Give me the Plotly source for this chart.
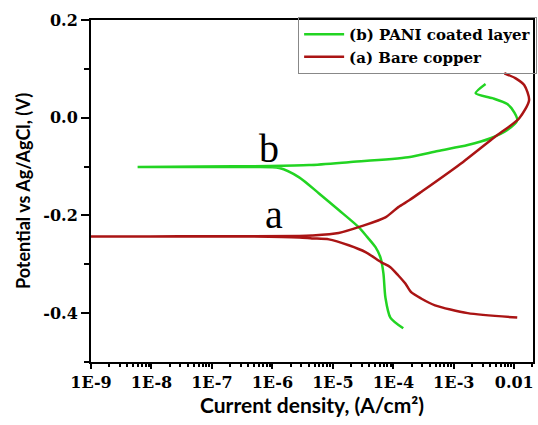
import plotly.graph_objects as go

# PANI coated layer (b): cathodic end -> corrosion spike -> anodic end
b_current = [1.46e-4, 8.93e-5, 7.4e-5, 6.85e-5, 6.12e-5, 5.07e-5, 3.75e-5, 2.67e-5, 1.25e-5,
             5.9e-6, 2.77e-6, 1.30e-6, 4.2e-7, 6.4e-8, 5.9e-9, 6.4e-8, 8.9e-7,
             4.05e-6, 1.83e-5, 1.76e-4, 5.47e-4, 1.70e-3, 4.05e-3, 7.67e-3,
             1.12e-2, 1.00e-2, 7.67e-3, 4.35e-3, 2.30e-3, 3.35e-3]
b_potential = [-0.431, -0.409, -0.368, -0.318, -0.286, -0.265, -0.245, -0.224, -0.189,
               -0.155, -0.122, -0.103, -0.101, -0.101, -0.101, -0.100, -0.099,
               -0.097, -0.091, -0.081, -0.068, -0.056, -0.042, -0.025,
               -0.005, 0.011, 0.028, 0.040, 0.050, 0.069]

# Bare copper (a)
a_current = [1.12e-2, 1.70e-3, 4.89e-4, 2.88e-4, 1.97e-4, 1.57e-4, 1.21e-4, 8.93e-5, 6.35e-5,
             3.47e-5, 1.83e-5, 8.6e-6, 4.53e-6, 2.77e-6, 4.2e-7, 9.6e-9, 1.0e-9, 9.6e-9,
             2.77e-6, 4.53e-6, 1.25e-5, 2.99e-5, 7.4e-5, 1.21e-4, 1.83e-4, 2.88e-4,
             1.41e-3, 4.70e-3, 1.21e-2, 1.76e-2, 1.46e-2, 1.04e-2, 6.86e-3]
a_potential = [-0.409, -0.400, -0.384, -0.370, -0.357, -0.339, -0.323, -0.306, -0.296,
               -0.275, -0.261, -0.249, -0.247, -0.245, -0.243, -0.243, -0.243, -0.243,
               -0.242, -0.241, -0.236, -0.222, -0.204, -0.183, -0.169, -0.152,
               -0.091, -0.040, -0.001, 0.036, 0.067, 0.081, 0.091]

x_tickvals = [1e-9, 1e-8, 1e-7, 1e-6, 1e-5, 1e-4, 1e-3, 1e-2]
x_ticktext = ["1E-9", "1E-8", "1E-7", "1E-6", "1E-5", "1E-4", "1E-3", "0.01"]
x_minor = [k * 10.0 ** e for e in range(-9, -1) for k in range(2, 10)]
y_tickvals = [0.2, 0.0, -0.2, -0.4]
y_ticktext = ["0.2", "0.0", "-0.2", "-0.4"]
y_minor = [0.1, -0.1, -0.3, -0.5]

GREEN = "#22d422"
RED = "#aa1414"
serif = "Liberation Serif, Times New Roman, serif"
wserif = "DejaVu Serif, Liberation Serif, serif"
sans = "Lato, Liberation Sans, sans-serif"

fig = go.Figure()
fig.add_trace(go.Scatter(x=b_current, y=b_potential, mode="lines",
                         name="<b>(b) PANI coated layer</b>",
                         line=dict(color=GREEN, width=2.5, shape="spline", smoothing=0.7)))
fig.add_trace(go.Scatter(x=a_current, y=a_potential, mode="lines",
                         name="<b>(a) Bare copper</b>",
                         line=dict(color=RED, width=2.5, shape="spline", smoothing=0.7)))

fig.add_annotation(x=-6.05, y=-0.063, xref="x", yref="y", text="b", showarrow=False,
                   font=dict(family=serif, size=40, color="black"))
fig.add_annotation(x=-5.97, y=-0.199, xref="x", yref="y", text="a", showarrow=False,
                   font=dict(family=serif, size=40, color="black"))

fig.update_layout(
    width=538, height=425,
    margin=dict(l=91, r=1, t=20, b=63),
    paper_bgcolor="white", plot_bgcolor="white",
    font=dict(family=serif, color="black"),
    showlegend=True,
    legend=dict(x=0.4686, y=1.009, xanchor="left", yanchor="top",
                bgcolor="rgba(255,255,255,0)", bordercolor="#888888", borderwidth=1,
                font=dict(family=wserif, size=15, color="black"),
                itemwidth=40, tracegroupgap=0),
    xaxis=dict(type="log", range=[-9, -1.69],
               tickmode="array", tickvals=x_tickvals, ticktext=x_ticktext,
               ticks="outside", ticklen=5, tickwidth=2, tickcolor="black",
               showline=True, linewidth=2, linecolor="black", mirror=True,
               showgrid=False, zeroline=False,
               tickfont=dict(family=wserif, size=16, color="black", weight="bold"),
               minor=dict(tickmode="array", tickvals=x_minor, ticks="outside",
                          ticklen=3, tickwidth=1.5, tickcolor="black", showgrid=False),
               title=dict(text="<b>Current density, (A/cm²)</b>", standoff=6,
                          font=dict(family=sans, size=21, color="black"))),
    yaxis=dict(range=[-0.5, 0.2],
               tickmode="array", tickvals=y_tickvals, ticktext=y_ticktext,
               ticks="outside", ticklen=8, tickwidth=2, tickcolor="black",
               showline=True, linewidth=2, linecolor="black", mirror=True,
               showgrid=False, zeroline=False,
               tickfont=dict(family=wserif, size=16, color="black", weight="bold"),
               minor=dict(tickmode="array", tickvals=y_minor, ticks="outside",
                          ticklen=5, tickwidth=2, tickcolor="black", showgrid=False),
               title=dict(text="<b>Potential vs Ag/AgCl, (V)</b>", standoff=8,
                          font=dict(family=sans, size=18, color="black"))),
)

fig.write_html("out.html")
